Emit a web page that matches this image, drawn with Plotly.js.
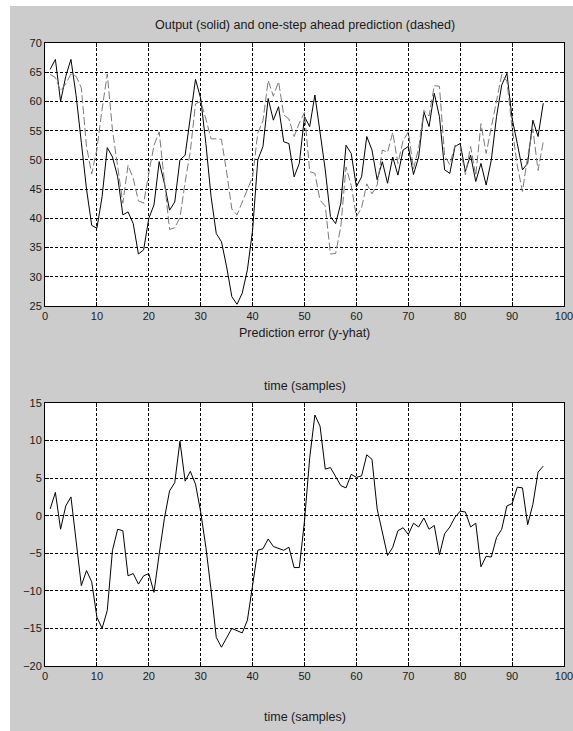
<!DOCTYPE html>
<html>
<head>
<meta charset="utf-8">
<script src="https://cdn.plot.ly/plotly-3.0.1.min.js"></script>
<style>
  html, body { margin: 0; padding: 0; background: #ffffff; }
  #fig { position: absolute; left: 10px; top: 6px; width: 563px; height: 725px; }
</style>
</head>
<body>
<div id="fig"></div>
<script>
// Sample index
const samples = [1,2,3,4,5,6,7,8,9,10,11,12,13,14,15,16,17,18,19,20,
  21,22,23,24,25,26,27,28,29,30,31,32,33,34,35,36,37,38,39,40,
  41,42,43,44,45,46,47,48,49,50,51,52,53,54,55,56,57,58,59,60,
  61,62,63,64,65,66,67,68,69,70,71,72,73,74,75,76,77,78,79,80,
  81,82,83,84,85,86,87,88,89,90,91,92,93,94,95,96];

// Measured output y
const output = [65.5,67.2,60.0,64.3,67.2,61.0,53.0,45.0,38.8,38.3,
  43.7,52.1,50.5,47.1,40.6,41.1,39.1,33.9,34.6,40.0,
  42.3,49.7,46.0,41.4,42.8,50.0,50.8,57.4,63.8,60.5,
  52.8,43.7,37.4,36.0,31.7,26.6,25.3,27.2,31.2,38.0,
  50.0,52.3,60.5,56.8,59.1,53.1,52.8,47.1,49.4,57.4,
  55.7,61.1,55.0,48.3,40.3,39.1,42.6,52.5,51.1,45.4,
  47.1,54.0,51.7,46.6,49.7,46.0,50.5,47.4,51.7,52.3,
  47.5,50.5,58.2,55.7,61.4,57.4,48.3,47.7,52.3,52.8,
  48.0,50.8,46.3,49.4,45.7,50.0,57.4,62.8,64.8,57.1,
  52.8,48.3,49.4,56.8,54.0,59.7];

// One-step ahead prediction yhat
const prediction = [64.6,64.1,61.8,63.0,64.7,64.3,62.3,52.3,47.6,51.8,
  58.7,64.7,55.1,48.9,42.6,49.1,46.8,43.0,42.6,47.7,
  52.5,54.8,46.4,38.1,38.4,40.1,46.2,51.5,59.6,60.0,
  57.0,53.6,53.6,53.5,47.9,41.6,40.6,42.8,45.1,47.1,
  54.6,56.7,63.6,60.9,63.4,57.7,57.0,54.0,56.3,58.1,
  48.0,47.7,43.1,42.1,33.9,34.0,38.6,48.8,45.6,40.3,
  41.8,45.9,44.2,45.7,51.7,51.3,54.7,49.4,53.3,54.8,
  48.5,52.0,58.5,57.5,62.7,62.6,50.7,49.2,52.5,52.2,
  47.5,52.3,47.3,56.2,51.1,55.5,60.3,64.6,63.5,55.5,
  49.0,44.6,50.6,55.3,48.2,53.1];

// Prediction error y - yhat
const predError = [0.9,3.1,-1.8,1.3,2.5,-3.3,-9.3,-7.3,-8.8,-13.5,
  -15.0,-12.6,-4.6,-1.8,-2.0,-8.0,-7.7,-9.1,-8.0,-7.7,
  -10.2,-5.1,-0.4,3.3,4.4,9.9,4.6,5.9,4.2,0.5,
  -4.2,-9.9,-16.2,-17.5,-16.2,-15.0,-15.3,-15.6,-13.9,-9.1,
  -4.6,-4.4,-3.1,-4.1,-4.3,-4.6,-4.2,-6.9,-6.9,-0.7,
  7.7,13.4,11.9,6.2,6.4,5.1,4.0,3.7,5.5,5.1,
  5.3,8.1,7.5,0.9,-2.0,-5.3,-4.2,-2.0,-1.6,-2.5,
  -1.0,-1.5,-0.3,-1.8,-1.3,-5.2,-2.4,-1.5,-0.2,0.6,
  0.5,-1.5,-1.0,-6.8,-5.4,-5.5,-2.9,-1.8,1.3,1.6,
  3.8,3.7,-1.2,1.5,5.8,6.6];

const xTicks = [0,10,20,30,40,50,60,70,80,90,100];

const tickFont = { family: 'Liberation Sans, Arial, sans-serif', size: 11, color: '#1a1a1a' };
const titleFont = { family: 'Liberation Sans, Arial, sans-serif', size: 12.5, color: '#1a1a1a' };

const traces = [
  { x: samples, y: output, type: 'scatter', mode: 'lines', xaxis: 'x', yaxis: 'y',
    line: { color: '#000000', width: 1 }, hoverinfo: 'skip' },
  { x: samples, y: prediction, type: 'scatter', mode: 'lines', xaxis: 'x', yaxis: 'y',
    line: { color: '#7a7a7a', width: 1, dash: '8px,3px' }, hoverinfo: 'skip' },
  { x: samples, y: predError, type: 'scatter', mode: 'lines', xaxis: 'x2', yaxis: 'y2',
    line: { color: '#000000', width: 1 }, hoverinfo: 'skip' }
];

function axisStyle(extra) {
  return Object.assign({
    showline: true, linecolor: '#000000', linewidth: 1, mirror: 'allticks',
    ticks: 'inside', ticklen: 4, tickcolor: '#000000',
    showgrid: true, gridcolor: '#000000', gridwidth: 1, griddash: '3px,2px',
    zeroline: false, tickfont: tickFont, fixedrange: true
  }, extra);
}

const layout = {
  width: 563, height: 725,
  paper_bgcolor: '#cccccc', plot_bgcolor: '#ffffff',
  margin: { l: 35, r: 9, t: 37, b: 65 },
  showlegend: false,
  font: tickFont,
  xaxis: axisStyle({ domain: [0, 1], range: [0, 100], tickvals: xTicks, anchor: 'y', ticklabeloverflow: 'allow' }),
  yaxis: axisStyle({ domain: [0.5778, 1], range: [25, 70], dtick: 5, tick0: 25, anchor: 'x' }),
  xaxis2: axisStyle({ domain: [0, 1], range: [0, 100], tickvals: xTicks, anchor: 'y2', ticklabeloverflow: 'allow' }),
  yaxis2: axisStyle({ domain: [0, 0.4222], range: [-20, 15], dtick: 5, tick0: -20, anchor: 'x2' }),
  annotations: [
    { text: 'Output (solid) and one-step ahead prediction (dashed)', xref: 'paper', yref: 'paper',
      x: 0.5, y: 1.0289, xanchor: 'center', yanchor: 'middle', showarrow: false, font: titleFont },
    { text: 'Prediction error (y-yhat)', xref: 'paper', yref: 'paper',
      x: 0.5, y: 0.5345, xanchor: 'center', yanchor: 'middle', showarrow: false, font: titleFont },
    { text: 'time (samples)', xref: 'paper', yref: 'paper',
      x: 0.5, y: 0.4494, xanchor: 'center', yanchor: 'middle', showarrow: false, font: titleFont },
    { text: 'time (samples)', xref: 'paper', yref: 'paper',
      x: 0.5, y: -0.0819, xanchor: 'center', yanchor: 'middle', showarrow: false, font: titleFont }
  ]
};

Plotly.newPlot('fig', traces, layout, { displayModeBar: false, staticPlot: true });
</script>
</body>
</html>
